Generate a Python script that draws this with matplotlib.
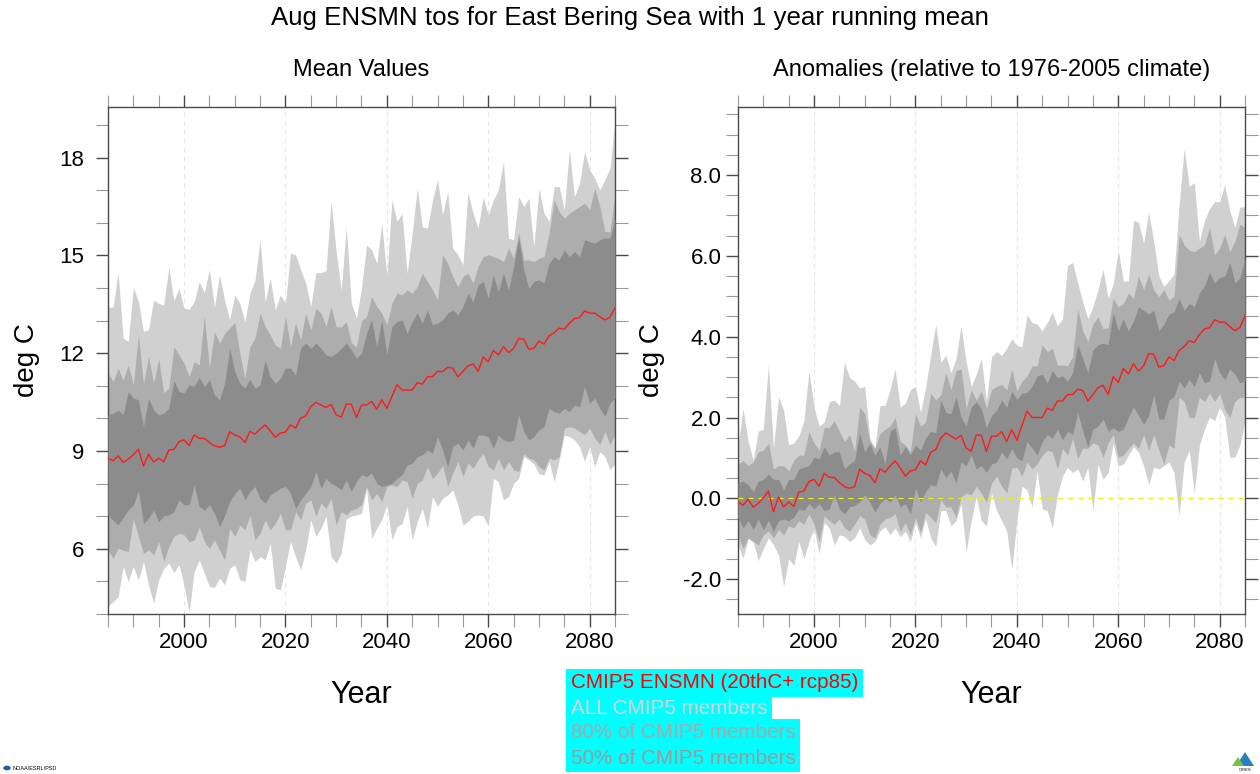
import matplotlib
matplotlib.use("Agg")
import matplotlib.pyplot as plt
import numpy as np
from matplotlib.ticker import MultipleLocator, FormatStrFormatter
from matplotlib.patches import Polygon, Circle

plt.rcParams['font.family'] = ['Liberation Sans', 'DejaVu Sans']
plt.rcParams['axes.unicode_minus'] = False

years = np.arange(1985, 2086)

# ---- Mean values (deg C), left panel ----
mean_ensmn = [
    8.78, 8.70, 8.85, 8.65, 8.75, 8.88, 9.05, 8.54, 8.90, 8.66,
    8.78, 8.67, 9.03, 9.05, 9.29, 9.34, 9.17, 9.49, 9.39, 9.39,
    9.26, 9.16, 9.12, 9.16, 9.59, 9.49, 9.44, 9.26, 9.60, 9.52,
    9.67, 9.80, 9.62, 9.42, 9.55, 9.58, 9.80, 9.70, 10.01, 10.08,
    10.36, 10.49, 10.41, 10.34, 10.43, 10.11, 10.04, 10.44, 10.43, 10.03,
    10.41, 10.41, 10.52, 10.28, 10.57, 10.31, 10.67, 11.03, 10.87, 10.87,
    10.87, 11.10, 11.05, 11.28, 11.28, 11.44, 11.44, 11.57, 11.54, 11.28,
    11.44, 11.61, 11.67, 11.44, 11.88, 11.74, 12.08, 11.95, 12.20, 12.02,
    12.15, 12.45, 12.43, 12.12, 12.15, 12.37, 12.28, 12.53, 12.63, 12.77,
    12.73, 12.92, 13.06, 13.09, 13.29, 13.23, 13.23, 13.12, 13.02, 13.10,
    13.39]
mean_max = [
    13.41, 13.41, 14.47, 12.46, 12.36, 14.02, 13.58, 12.66, 12.73, 13.63,
    13.53, 13.48, 14.64, 13.61, 13.99, 13.38, 13.35, 13.58, 14.20, 13.86,
    14.58, 13.41, 14.40, 13.63, 13.02, 13.79, 13.53, 12.97, 13.84, 14.25,
    15.48, 13.58, 14.30, 13.33, 13.79, 13.53, 15.07, 15.02, 14.56, 14.15,
    13.43, 14.47, 14.47, 14.53, 16.65, 15.12, 13.94, 15.88, 13.53, 13.07,
    14.00, 15.32, 15.17, 14.76, 15.99, 14.35, 16.70, 16.04, 16.29, 14.45,
    15.68, 17.06, 15.88, 15.83, 16.70, 17.32, 16.24, 16.96, 15.22, 15.02,
    14.71, 16.93, 16.29, 15.83, 16.78, 16.24, 16.70, 17.01, 17.88, 15.53,
    15.48, 16.80, 16.50, 16.75, 15.27, 17.06, 16.29, 16.04, 17.11, 17.11,
    16.40, 18.24, 16.80, 17.21, 18.19, 17.62, 17.37, 17.01, 17.32, 17.67,
    19.16]
mean_p90 = [
    11.41, 11.13, 11.54, 11.18, 11.64, 11.03, 12.56, 11.06, 11.90, 11.08,
    11.82, 10.79, 10.93, 12.20, 11.95, 11.69, 11.28, 11.74, 11.64, 13.14,
    11.54, 12.66, 12.31, 12.61, 12.77, 12.95, 12.00, 11.23, 12.20, 12.46,
    13.23, 12.82, 12.56, 12.25, 12.15, 13.12, 12.20, 12.92, 12.41, 13.23,
    12.71, 13.38, 13.23, 12.82, 13.43, 12.82, 12.80, 12.97, 12.31, 12.20,
    13.00, 13.12, 13.74, 13.43, 13.23, 12.87, 13.53, 13.84, 13.79, 13.94,
    13.84, 14.04, 14.45, 14.20, 13.94, 13.63, 15.02, 14.76, 14.35, 14.04,
    14.35, 14.45, 14.15, 14.66, 14.96, 15.02, 14.96, 14.91, 14.81, 15.22,
    14.91, 15.70, 14.86, 14.86, 14.81, 14.91, 14.96, 15.68, 16.70, 16.34,
    16.14, 16.29, 16.40, 16.50, 16.60, 16.40, 17.06, 16.50, 15.73, 15.73,
    16.91]
mean_p75 = [
    10.11, 10.16, 10.26, 10.11, 10.82, 10.62, 10.57, 9.75, 10.62, 10.26,
    10.11, 10.16, 10.31, 11.16, 10.82, 10.79, 11.03, 10.98, 11.26, 10.98,
    11.18, 10.72, 10.57, 11.08, 12.15, 11.44, 11.08, 10.93, 11.20, 10.93,
    11.03, 11.79, 11.28, 11.08, 11.23, 11.54, 11.54, 11.33, 12.15, 12.31,
    12.15, 12.31, 12.15, 11.95, 11.90, 12.00, 12.15, 12.31, 12.10, 11.85,
    12.00, 12.61, 13.02, 12.20, 13.02, 11.95, 12.82, 12.97, 13.02, 12.61,
    12.97, 13.23, 12.92, 13.33, 12.87, 12.92, 13.02, 13.23, 13.33, 13.17,
    13.43, 13.84, 13.58, 14.09, 14.20, 13.69, 14.40, 13.89, 14.45, 13.94,
    14.66, 15.53, 14.56, 13.99, 14.20, 14.25, 14.15, 14.76, 14.96, 14.86,
    15.17, 14.96, 15.12, 14.96, 15.48, 15.42, 15.37, 15.48, 15.53, 15.53,
    16.14]
mean_p25 = [
    7.04, 6.87, 6.73, 6.97, 7.19, 7.35, 7.79, 6.78, 6.94, 7.19,
    6.84, 7.01, 7.04, 7.14, 7.50, 7.35, 7.35, 7.96, 7.30, 7.19,
    7.35, 7.09, 6.68, 7.01, 7.45, 7.70, 7.86, 7.50, 7.76, 7.91,
    7.55, 7.40, 7.65, 7.76, 7.86, 7.91, 7.70, 7.24, 7.50, 7.70,
    7.91, 8.37, 7.86, 8.16, 8.01, 7.93, 7.81, 8.11, 7.76, 8.06,
    8.27, 8.22, 8.32, 8.01, 7.91, 7.96, 8.01, 8.16, 8.27, 8.57,
    8.62, 8.83, 8.88, 9.03, 8.93, 9.44, 9.03, 8.52, 9.14, 9.24,
    9.03, 9.34, 9.08, 9.49, 9.49, 9.44, 9.08, 9.49, 9.34, 9.29,
    9.34, 10.11, 9.60, 9.34, 9.44, 9.65, 9.75, 10.31, 10.21, 10.16,
    10.31, 10.21, 10.41, 10.36, 10.98, 10.47, 10.62, 10.31, 10.06, 10.47,
    10.62]
mean_p10 = [
    5.97, 5.71, 6.02, 5.95, 5.92, 6.94, 6.38, 5.86, 5.97, 5.81,
    6.22, 5.61, 6.07, 6.38, 6.48, 6.43, 6.22, 6.27, 6.68, 6.22,
    6.02, 6.27, 5.97, 5.66, 6.63, 6.38, 6.73, 6.58, 7.04, 6.27,
    6.48, 6.89, 6.58, 6.78, 7.09, 6.58, 6.58, 7.14, 6.89, 7.40,
    7.50, 7.01, 7.40, 7.24, 7.55, 6.73, 7.14, 7.04, 7.19, 7.24,
    7.35, 7.91, 7.50, 7.70, 7.45, 7.91, 7.96, 7.91, 8.11, 8.06,
    7.55, 8.01, 8.11, 8.52, 8.16, 8.32, 8.57, 7.91, 8.32, 8.68,
    8.22, 8.63, 8.47, 8.73, 8.93, 8.52, 8.42, 8.78, 8.42, 8.68,
    8.42, 8.37, 8.93, 8.78, 8.73, 8.52, 8.42, 8.78, 8.73, 8.83,
    9.70, 9.75, 9.70, 9.60, 9.50, 9.70, 9.40, 9.20, 9.60, 9.20,
    9.50]
mean_min = [
    4.23, 4.38, 4.53, 5.46, 5.00, 5.46, 5.05, 5.61, 4.89, 4.33,
    5.05, 5.40, 5.56, 5.27, 5.51, 4.89, 4.05, 5.30, 5.66, 5.25,
    4.84, 4.82, 5.10, 4.89, 5.40, 5.51, 5.05, 5.00, 5.97, 5.61,
    5.76, 5.66, 6.17, 4.79, 4.74, 5.46, 6.22, 5.76, 5.35, 5.97,
    6.89, 6.38, 6.63, 7.01, 5.76, 5.56, 5.86, 6.91, 7.01, 7.04,
    7.09, 7.86, 6.32, 6.63, 6.89, 7.35, 6.27, 6.68, 6.78, 7.30,
    6.27, 6.84, 7.24, 6.63, 7.60, 7.30, 7.55, 7.65, 7.81, 7.35,
    6.73, 6.84, 7.01, 7.04, 7.00, 6.70, 8.16, 8.06, 7.50, 7.60,
    8.01, 8.16, 8.83, 8.73, 8.60, 8.30, 8.27, 8.68, 8.06, 8.73,
    9.49, 9.44, 9.34, 9.14, 8.68, 9.14, 8.52, 8.98, 8.83, 8.42,
    8.62]

# ---- Anomalies relative to 1976-2005, right panel ----
clim_1976_2005 = 8.87
anom_max = [
    1.32, 2.22, 1.41, 0.95, 1.66, 1.71, 3.30, 1.24, 2.52, 2.18,
    1.32, 1.37, 1.54, 1.92, 3.16, 2.26, 1.79, 1.88, 2.39, 2.43,
    2.30, 3.37, 2.99, 2.90, 2.73, 2.77, 1.49, 1.24, 2.30, 2.30,
    2.69, 3.20, 2.26, 2.35, 2.69, 2.77, 2.13, 2.73, 3.54, 4.31,
    3.37, 3.54, 3.11, 3.46, 4.27, 3.37, 2.77, 3.07, 3.46, 2.40,
    3.50, 3.63, 3.54, 3.71, 3.95, 3.78, 3.75, 4.54, 4.35, 4.31,
    4.14, 4.35, 4.61, 4.27, 4.44, 5.76, 5.84, 5.33, 4.86, 4.44,
    4.74, 5.16, 5.67, 4.95, 5.30, 6.14, 5.38, 5.38, 6.87, 6.83,
    6.31, 7.08, 6.36, 5.50, 5.25, 5.38, 5.55, 7.25, 8.66, 7.72,
    7.81, 6.36, 6.87, 7.17, 7.34, 7.34, 7.76, 7.12, 6.70, 7.21,
    7.21]
anom_p90 = [
    0.85, 0.94, 0.81, 0.90, 1.15, 1.19, 1.37, 0.73, 0.81, 0.81,
    0.68, 0.94, 1.07, 1.07, 1.66, 1.37, 1.19, 1.75, 1.75, 1.92,
    1.66, 1.40, 1.58, 1.15, 2.26, 2.09, 1.41, 1.24, 1.60, 1.71,
    1.79, 2.00, 1.41, 1.32, 1.15, 2.09, 1.79, 1.88, 2.60, 2.43,
    2.56, 3.11, 2.69, 3.16, 3.20, 2.22, 2.69, 2.43, 2.65, 2.22,
    2.69, 2.77, 2.82, 2.69, 3.20, 2.65, 2.90, 3.03, 3.28, 3.28,
    3.80, 3.63, 3.71, 3.30, 3.30, 3.28, 3.50, 4.69, 4.14, 3.88,
    4.31, 4.48, 4.20, 4.22, 4.95, 4.74, 4.82, 5.08, 4.95, 5.50,
    5.16, 5.55, 5.16, 4.99, 5.16, 4.91, 4.99, 6.53, 6.27, 6.14,
    6.10, 6.19, 6.27, 6.70, 6.02, 6.19, 6.53, 6.10, 6.36, 6.78,
    6.70]
anom_p75 = [
    0.38, 0.43, 0.34, 0.17, 0.43, 0.47, 0.60, 0.47, 0.47, 0.21,
    0.47, 0.47, 0.73, 0.77, 0.81, 1.02, 0.98, 1.28, 1.07, 1.15,
    1.15, 0.73, 0.85, 0.94, 1.62, 1.15, 1.37, 1.07, 1.28, 0.85,
    1.66, 1.75, 1.07, 1.28, 1.07, 1.32, 1.19, 1.49, 1.66, 1.62,
    2.43, 2.13, 2.09, 2.52, 2.01, 1.79, 2.26, 2.39, 2.22, 1.75,
    2.05, 2.18, 2.43, 2.26, 2.65, 2.45, 2.60, 2.62, 2.77, 3.03,
    3.07, 2.86, 3.16, 2.99, 3.03, 2.90, 3.11, 3.80, 3.46, 3.11,
    3.67, 3.80, 3.84, 3.80, 4.60, 4.14, 4.44, 4.14, 4.39, 4.74,
    4.65, 4.56, 4.65, 4.14, 4.31, 4.56, 4.61, 4.95, 4.65, 4.82,
    4.74, 5.08, 5.25, 5.59, 5.33, 5.46, 5.50, 5.84, 5.33, 5.46,
    5.93]
anom_p25 = [
    -0.47, -0.73, -0.55, -0.77, -0.51, -0.77, -0.55, -0.81, -0.55, -0.51,
    -0.55, -0.47, -0.26, -0.30, -0.13, -0.26, -0.13, -0.30, -0.26, 0.09,
    -0.26, -0.38, -0.21, -0.17, -0.09, 0.09, -0.09, -0.34, -0.13, 0.00,
    -0.09, 0.09, -0.21, -0.13, -0.38, 0.26, -0.09, 0.17, 0.34, 0.30,
    0.73, 0.51, 0.68, 0.38, 0.90, 0.81, 1.07, 0.73, 0.81, 0.64,
    0.85, 0.90, 1.15, 0.98, 1.24, 1.00, 0.94, 1.41, 1.24, 1.07,
    1.41, 1.58, 1.49, 1.71, 1.45, 1.66, 1.58, 2.13, 1.66, 1.28,
    1.71, 1.79, 1.96, 1.66, 1.75, 1.66, 1.71, 2.01, 2.26, 2.05,
    1.83, 2.05, 2.56, 1.96, 1.96, 2.43, 2.52, 2.90, 2.73, 2.94,
    2.77, 3.11, 2.86, 2.90, 3.46, 3.11, 2.94, 3.20, 3.07, 2.86,
    2.90]
anom_p10 = [
    -0.94, -1.24, -0.98, -1.07, -1.15, -0.90, -0.81, -0.98, -0.77, -0.90,
    -0.68, -0.73, -0.55, -0.64, -0.38, -0.64, -1.07, -0.43, -0.55, -0.64,
    -0.51, -0.73, -0.81, -0.64, -0.43, -0.51, -0.90, -0.98, -0.64, -0.51,
    -0.47, -0.38, -0.81, -0.60, -0.90, -0.47, -0.85, -0.34, -0.47, -0.60,
    -0.04, -0.21, -0.21, -0.47, 0.04, 0.13, 0.09, 0.30, 0.13, -0.09,
    0.38, 0.55, 0.30, 0.13, 0.75, 0.77, 0.55, 0.90, 0.73, 0.85,
    1.07, 1.19, 1.15, 0.73, 1.24, 1.07, 1.49, 0.98, 1.24, 1.24,
    1.37, 1.32, 1.02, 1.37, 1.58, 1.02, 1.07, 1.24, 1.37, 1.24,
    1.58, 1.19, 1.58, 1.19, 0.85, 1.32, 1.24, 2.50, 2.40, 2.00,
    2.00, 2.50, 2.40, 2.60, 2.40, 2.60, 2.20, 2.00, 2.40, 2.50,
    2.50]
anom_min = [
    -1.15, -1.49, -0.98, -1.07, -1.54, -1.24, -0.98, -1.15, -1.41, -2.18,
    -1.49, -1.66, -1.07, -1.49, -1.07, -0.75, -1.37, -0.60, -0.73, -1.15,
    -0.90, -0.94, -1.07, -0.98, -0.73, -1.02, -1.15, -1.07, -0.80, -0.70,
    -0.90, -0.73, -0.95, -0.81, -1.07, -0.60, -0.98, -0.50, -0.98, -1.19,
    -0.30, -0.30, -0.68, -0.55, -0.13, -1.32, -0.55, 0.04, -0.55, -0.68,
    0.13, -0.30, -0.55, -0.81, -1.75, -0.55, 0.30, 0.21, -0.21, 0.68,
    -0.26, -0.30, -0.73, 0.09, 0.55, 0.77, 0.64, 0.73, 0.43, 0.77,
    -0.30, 0.85, 0.47, 0.64, 1.37, 0.80, 0.85, 1.07, 1.28, 1.15,
    0.81, 0.34, 0.77, 0.73, 0.81, 0.90, 0.64, -0.43, 0.90, 1.19,
    0.13, 1.32, 1.71, 2.01, 1.92, 2.26, 2.01, 1.02, 1.02, 1.32,
    1.92]
anom_ensmn = np.array(mean_ensmn) - clim_1976_2005

LIGHT = '#d0d0d0'
MID = '#adadad'
DARK = '#8c8c8c'
AXIS_COL = '#4a4a4a'


def draw_panel(ax, lo, hi, p10, p90, p25, p75, mid):
    ax.fill_between(years, lo, hi, color=LIGHT, lw=0, zorder=1)
    ax.fill_between(years, p10, p90, color=MID, lw=0, zorder=2)
    ax.fill_between(years, p25, p75, color=DARK, lw=0, zorder=3)
    ax.plot(years, mid, color='#ff1a1a', lw=1.0, zorder=5)
    for yr in range(2000, 2081, 20):
        ax.axvline(yr, color='#e4e4e4', lw=0.8, ls=(0, (4, 4)), zorder=0)
    ax.set_xlim(1985, 2085)
    ax.xaxis.set_major_locator(MultipleLocator(20))
    ax.xaxis.set_minor_locator(MultipleLocator(5))
    for s in ax.spines.values():
        s.set_color(AXIS_COL)
        s.set_linewidth(1.0)
    ax.tick_params(which='both', direction='out', top=True, right=True,
                   labelsize=16)
    ax.tick_params(which='major', length=9, width=1.0, color=AXIS_COL)
    ax.tick_params(which='minor', length=9, width=0.8, color='#9a9a9a')
    ax.tick_params(axis='x', which='both', pad=4)
    ax.set_xlabel('Year', fontsize=22)
    ax.xaxis.set_label_coords(0.5, -0.13)
    ax.set_ylabel('deg C', fontsize=20)


fig = plt.figure(figsize=(12.6, 7.74), dpi=100)
ax1 = fig.add_axes([0.0857, 0.2067, 0.4024, 0.655])
ax2 = fig.add_axes([0.5857, 0.2067, 0.4024, 0.655])

draw_panel(ax1, mean_min, mean_max, mean_p10, mean_p90, mean_p25, mean_p75, mean_ensmn)
ax1.set_ylim(4.0, 19.55)
ax1.yaxis.set_major_locator(MultipleLocator(3))
ax1.yaxis.set_minor_locator(MultipleLocator(1))
ax1.tick_params(axis='y', which='both', pad=8)
ax1.yaxis.set_label_coords(-0.135, 0.5)
ax1.text(0.5, 1.073, 'Mean Values', transform=ax1.transAxes,
         ha='center', va='center', fontsize=17)

draw_panel(ax2, anom_min, anom_max, anom_p10, anom_p90, anom_p25, anom_p75, anom_ensmn)
ax2.axhline(0, color='#f0f000', lw=0.9, ls=(0, (4, 4)), zorder=4)
ax2.set_ylim(-2.86, 9.68)
ax2.yaxis.set_major_locator(MultipleLocator(2))
ax2.yaxis.set_minor_locator(MultipleLocator(0.5))
ax2.yaxis.set_major_formatter(FormatStrFormatter('%.1f'))
ax2.tick_params(axis='y', which='both', pad=3)
ax2.yaxis.set_label_coords(-0.143, 0.5)
ax2.text(0.5, 1.073, 'Anomalies (relative to 1976-2005 climate)', transform=ax2.transAxes,
         ha='center', va='center', fontsize=17)

fig.text(0.5, 1 - 18 / 774, 'Aug ENSMN tos for East Bering Sea with 1 year running mean',
         ha='center', va='center', fontsize=18.6)

# legend block
legend_rows = [
    ('CMIP5 ENSMN (20thC+ rcp85)', '#ff0000'),
    ('ALL CMIP5 members', '#d3d3d3'),
    ('80% of CMIP5 members', '#a8a8a8'),
    ('50% of CMIP5 members', '#9a9a9a'),
]
for k, (txt, col) in enumerate(legend_rows):
    fig.text(571 / 1260, 1 - (683 + 25 * k) / 774, txt, color=col, fontsize=14.9,
             ha='left', va='center',
             bbox=dict(boxstyle='square,pad=0.22', fc='#00ffff', ec='none'))

# small logos
fig.patches.append(Circle((7 / 1260, 1 - 768 / 774), 0.003, transform=fig.transFigure,
                          fc='#1f5fa8', ec='none'))
fig.text(12 / 1260, 1 - 768 / 774, 'NOAA/ESRL/PSD', fontsize=4, ha='left', va='center')
fig.patches.append(Polygon([[1236 / 1260, 1 - 766 / 774], [1245 / 1260, 1 - 752 / 774],
                            [1254 / 1260, 1 - 766 / 774]], closed=True,
                           transform=fig.transFigure, fc='#2a7fbf', ec='none'))
fig.patches.append(Polygon([[1232 / 1260, 1 - 766 / 774], [1238 / 1260, 1 - 757 / 774],
                            [1244 / 1260, 1 - 766 / 774]], closed=True,
                           transform=fig.transFigure, fc='#7ac143', ec='none'))
fig.text(1245 / 1260, 1 - 770 / 774, 'CIRES', fontsize=3, ha='center', va='center')

fig.savefig('out.png', dpi=100)
